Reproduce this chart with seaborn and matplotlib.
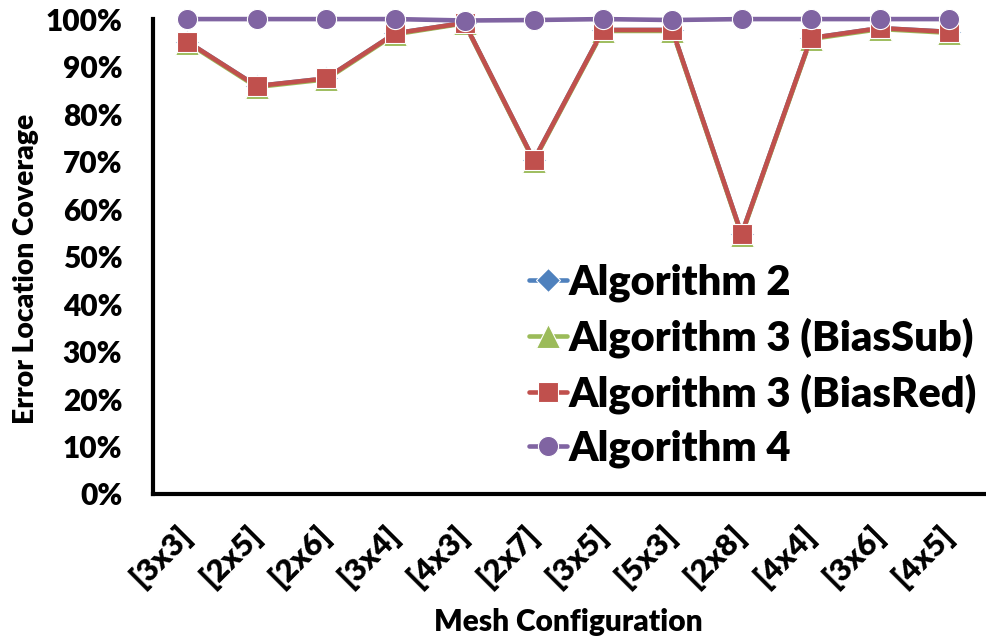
import matplotlib
matplotlib.use("Agg")
import matplotlib.pyplot as plt
import seaborn as sns
import pandas as pd
import numpy as np
from matplotlib.ticker import FixedLocator, PercentFormatter

categories = ["[3x3]", "[2x5]", "[2x6]", "[3x4]", "[4x3]", "[2x7]",
              "[3x5]", "[5x3]", "[2x8]", "[4x4]", "[3x6]", "[4x5]"]
alg2 = [95.2, 85.9, 87.5, 97.0, 99.2, 70.3, 97.7, 97.7, 54.7, 96.0, 98.1, 97.3]
alg3_sub = [95.0, 85.7, 87.3, 96.8, 99.1, 70.1, 97.5, 97.5, 54.5, 95.8, 97.9, 97.1]
alg3_red = [95.2, 85.9, 87.5, 97.0, 99.2, 70.3, 97.7, 97.7, 54.7, 96.0, 98.1, 97.3]
alg4 = [100.0, 100.0, 100.0, 100.0, 99.7, 99.8, 100.0, 99.8, 100.0, 100.0, 100.0, 100.0]

series_names = ["Algorithm 2", "Algorithm 3 (BiasSub)", "Algorithm 3 (BiasRed)", "Algorithm 4"]
series_values = [alg2, alg3_sub, alg3_red, alg4]
colors = ["#4F81BD", "#9BBB59", "#C0504D", "#8064A2"]
markers = ["D", "^", "s", "o"]
msizes = [12, 17, 14.5, 14.5]

df = pd.DataFrame({
    "Mesh": categories * len(series_names),
    "Coverage": [v for vals in series_values for v in vals],
    "Series": [n for n in series_names for _ in categories],
})

sns.set_style("white")
plt.rcParams["font.family"] = ["Lato", "DejaVu Sans"]
plt.rcParams["font.weight"] = "heavy"
for k in ["text.color", "axes.labelcolor", "xtick.color", "ytick.color"]:
    plt.rcParams[k] = "black"

W = "heavy"
fig = plt.figure(figsize=(9.86, 6.36), dpi=100)
ax = fig.add_axes([0.155, 0.2233, 0.843, 0.7467])

for name, col, mk, ms in zip(series_names, colors, markers, msizes):
    sub = df[df["Series"] == name]
    sns.lineplot(data=sub, x="Mesh", y="Coverage", ax=ax, sort=False,
                 color=col, marker=mk, markersize=ms, linewidth=3.3,
                 markeredgecolor="white", markeredgewidth=0.8,
                 label=name, clip_on=False, zorder=3)

ax.set_xlim(-0.5, len(categories) - 0.5)
ax.set_ylim(0, 100)
ax.yaxis.set_major_locator(FixedLocator(np.arange(0, 101, 10)))
ax.yaxis.set_major_formatter(PercentFormatter(decimals=0))

ax.set_xticks(range(len(categories)))
ax.set_xticklabels(categories, rotation=45, ha="right", va="center",
                   rotation_mode="anchor", fontsize=22.5, fontweight=W)
ax.xaxis.set_minor_locator(FixedLocator(np.arange(-0.5, len(categories), 1.0)))
ax.tick_params(axis="x", which="major", length=0, pad=26)
ax.tick_params(axis="x", which="minor", length=7, width=2.5, direction="out", color="black")
ax.tick_params(axis="y", which="major", length=7, width=2.5, direction="out",
               labelsize=21.5, color="black", pad=15)
for lbl in ax.get_yticklabels():
    lbl.set_fontweight(W)

for s in ["top", "right"]:
    ax.spines[s].set_visible(False)
for s in ["left", "bottom"]:
    ax.spines[s].set_linewidth(3)
    ax.spines[s].set_color("black")

ax.set_xlabel("Mesh Configuration", fontsize=21.5, fontweight=W, labelpad=11)
ax.set_ylabel("Error Location Coverage", fontsize=20.3, fontweight=W)
ax.yaxis.set_label_coords(-0.137, 0.474)

leg = ax.legend(loc="lower right", bbox_to_anchor=(1.012, 0.02), frameon=False,
                prop={"family": ["Lato"], "weight": W, "size": 30},
                handlelength=0.9, handletextpad=0.05, labelspacing=0.37,
                borderaxespad=0)

fig.savefig("out.png", dpi=100)
